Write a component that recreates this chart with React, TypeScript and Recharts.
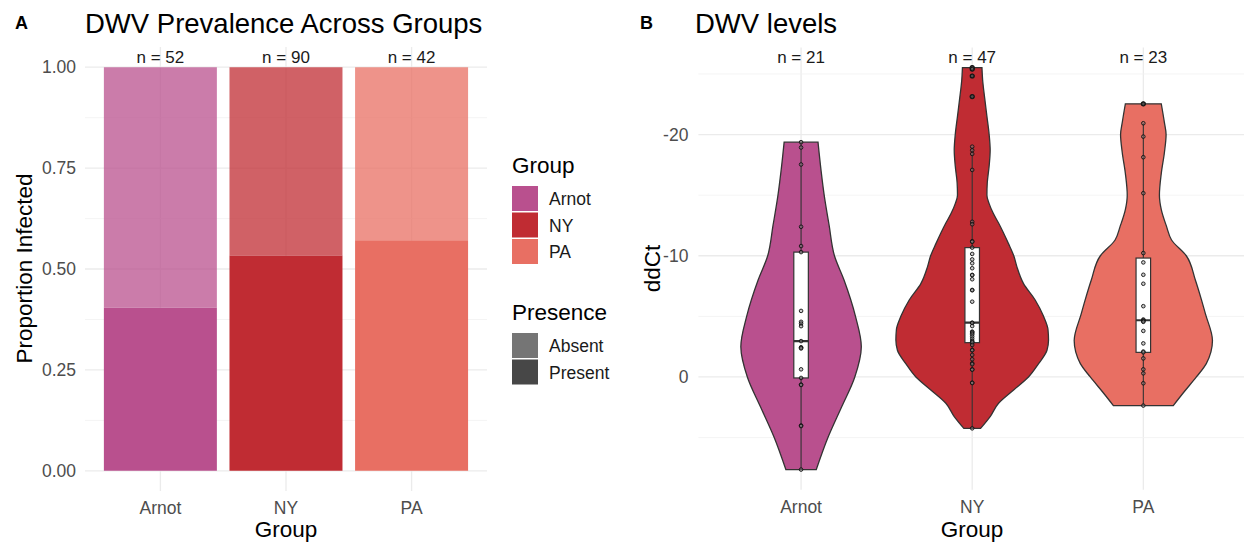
import {
  BarChart,
  Bar,
  Cell,
  LabelList,
  ComposedChart,
  Scatter,
  Curve,
  XAxis,
  YAxis,
  CartesianGrid,
} from 'recharts'

const FONT = '"Liberation Sans", Arial, Helvetica, sans-serif'

const GROUPS = ['Arnot', 'NY', 'PA']
const GROUP_COLORS = ['#B9508E', '#C02C33', '#E86F63']

// bees tested / DWV-positive per group
const TESTED = [52, 90, 42]
const INFECTED = [21, 48, 24]

const PROPORTION_TICKS = [0, 0.25, 0.5, 0.75, 1]
const PROPORTION_MINOR = [0.125, 0.375, 0.625, 0.875]

// ddCt of every DWV-positive bee
const ARNOT_DDCT = [
  -19.37, -18.93, -17.53, -12.39, -10.8, -10.3, -5.45, -4.55, -4.4, -4.19, -2.96,
  -2.45, -2.41, -2.35, -0.63, 0.08, 0.63, 0.66, 4.0, 4.05, 7.64,
]
const NY_DDCT = [
  -25.52, -25.4, -24.83, -23.13, -19.0, -18.7, -18.4, -17.08, -12.8, -12.6, -11.2,
  -11.15, -10.67, -10.15, -9.7, -9.38, -8.97, -8.42, -8.4, -8.06, -7.18, -7.15,
  -6.21, -4.48, -4.45, -4.2, -3.74, -3.7, -3.6, -3.5, -3.33, -3.15, -2.97, -2.9,
  -2.83, -2.64, -2.23, -2.2, -1.82, -1.46, -1.13, -1.05, -0.63, -0.6, 0.47, 0.5, 4.24,
]
const PA_DDCT = [
  -22.53, -20.93, -19.83, -18.13, -15.16, -10.22, -9.45, -8.43, -7.69, -5.84, -4.74,
  -4.68, -4.6, -4.55, -3.8, -2.77, -2.1, -2.03, -1.53, -0.63, -0.3, 0.52, 2.36,
]

// violin outlines: ddCt level and half width (in group units)
const ARNOT_LEVELS = [-19.37, -17, -15, -12.5, -10, -8, -5, -2.5, 0, 2.5, 5, 7.64]
const ARNOT_HALF = [0.099, 0.117, 0.135, 0.164, 0.195, 0.251, 0.318, 0.352, 0.314, 0.236, 0.157, 0.089]
const NY_LEVELS = [
  -25.52, -24.5, -23, -21.5, -20, -18.7, -17.4, -16, -15, -14.3, -13.5, -12.7, -11,
  -10, -9.1, -7.7, -6.35, -5, -3.9, -3.05, -2.2, -1.1, 0, 1.07, 2.17, 3.27, 4.24,
]
const NY_HALF = [
  0.057, 0.061, 0.073, 0.086, 0.099, 0.105, 0.099, 0.088, 0.086, 0.099, 0.123, 0.154,
  0.212, 0.243, 0.261, 0.3, 0.368, 0.417, 0.443, 0.446, 0.437, 0.388, 0.329, 0.242,
  0.154, 0.105, 0.049,
]
const PA_LEVELS = [
  -22.53, -21, -20, -18.5, -16.8, -15, -13.8, -12.4, -11.3, -10, -8, -6.4, -5.2, -3,
  -1.1, 0, 1.3, 2.36,
]
const PA_HALF = [
  0.105, 0.123, 0.133, 0.123, 0.105, 0.094, 0.105, 0.136, 0.165, 0.251, 0.304, 0.339,
  0.363, 0.404, 0.368, 0.31, 0.234, 0.175,
]

// boxplot statistics per group
const WHISKER_LOW = [-19.37, -19.0, -20.93]
const BOX_Q1 = [-10.3, -10.67, -9.81]
const BOX_MEDIAN = [-2.96, -4.48, -4.68]
const BOX_Q3 = [0.08, -2.83, -2.03]
const WHISKER_HIGH = [7.64, 4.24, 2.36]

const DDCT_TICKS = [-20, -10, 0]
const DDCT_MINOR = [-25, -15, -5, 5]

const DDCT = [ARNOT_DDCT, NY_DDCT, PA_DDCT]
const VIOLIN_LEVELS = [ARNOT_LEVELS, NY_LEVELS, PA_LEVELS]
const VIOLIN_HALF = [ARNOT_HALF, NY_HALF, PA_HALF]

const BOX_HALF = 0.0425
const N_LABEL_DDCT = -26.4

const prevalenceData = GROUPS.map((group, i) => ({
  group,
  present: INFECTED[i] / TESTED[i],
  absent: (TESTED[i] - INFECTED[i]) / TESTED[i],
  n: TESTED[i],
}))

const tickStyle = { fill: '#4D4D4D', fontSize: 17.5, fontFamily: FONT }

type Pt = { x: number; y: number }

function violinOutline(g: number) {
  const levels = VIOLIN_LEVELS[g]
  const half = VIOLIN_HALF[g]
  const cx = g + 1
  return [
    ...levels.map((y, i) => ({ x: cx - half[i], y })),
    ...levels.map((y, i) => ({ x: cx + half[i], y })),
  ]
}

const renderViolin = (color: string) => (props: any) => {
  const pts = props.points as Pt[]
  const n = pts.length / 2
  return (
    <Curve
      type="monotone"
      layout="vertical"
      points={pts.slice(n)}
      baseLine={pts.slice(0, n)}
      fill={color}
      stroke="#333333"
      strokeWidth={1.3}
    />
  )
}

function boxPoints(g: number) {
  const cx = g + 1
  return [
    { x: cx, y: WHISKER_LOW[g] },
    { x: cx, y: WHISKER_HIGH[g] },
    { x: cx - BOX_HALF, y: BOX_Q1[g] },
    { x: cx + BOX_HALF, y: BOX_Q3[g] },
    { x: cx - BOX_HALF, y: BOX_MEDIAN[g] },
    { x: cx + BOX_HALF, y: BOX_MEDIAN[g] },
  ]
}

const renderBox = (props: any) => {
  const [w0, w1, c0, c1, m0, m1] = props.points as Pt[]
  return (
    <g>
      <line x1={w0.x} y1={w0.y} x2={w1.x} y2={w1.y} stroke="#333333" strokeWidth={1.1} />
      <rect
        x={Math.min(c0.x, c1.x)}
        y={Math.min(c0.y, c1.y)}
        width={Math.abs(c1.x - c0.x)}
        height={Math.abs(c1.y - c0.y)}
        fill="#ffffff"
        stroke="#333333"
        strokeWidth={1.2}
      />
      <line x1={m0.x} y1={m0.y} x2={m1.x} y2={m1.y} stroke="#333333" strokeWidth={2.2} />
    </g>
  )
}

const hiddenShape = () => <g />

function PrevalencePanel() {
  return (
    <BarChart
      width={500}
      height={542}
      data={prevalenceData}
      margin={{ top: 47, right: 13, bottom: 21, left: 0 }}
      barCategoryGap="5%"
    >
      <CartesianGrid stroke="#EBEBEB" strokeWidth={1.3} syncWithTicks />
      <CartesianGrid
        stroke="#F1F1F1"
        strokeWidth={0.8}
        vertical={false}
        syncWithTicks
        horizontalValues={PROPORTION_MINOR}
      />
      <XAxis
        dataKey="group"
        height={30}
        padding={{ left: 12.6, right: 12.6 }}
        axisLine={false}
        tickLine={false}
        tickSize={0}
        tickMargin={10.5}
        tick={tickStyle}
      />
      <YAxis
        width={85}
        domain={[-0.05, 1.05]}
        ticks={PROPORTION_TICKS}
        allowDataOverflow
        axisLine={false}
        tickLine={false}
        tickSize={0}
        tickMargin={9}
        tick={tickStyle}
        tickFormatter={(v: number) => v.toFixed(2)}
      />
      <Bar dataKey="present" stackId="p" isAnimationActive={false}>
        {prevalenceData.map((d, i) => (
          <Cell key={d.group} fill={GROUP_COLORS[i]} />
        ))}
      </Bar>
      <Bar dataKey="absent" stackId="p" fillOpacity={0.75} isAnimationActive={false}>
        {prevalenceData.map((d, i) => (
          <Cell key={d.group} fill={GROUP_COLORS[i]} />
        ))}
        <LabelList
          dataKey="n"
          content={(p: any) => {
            const vb = p.viewBox ?? p
            return (
              <text
                x={vb.x + vb.width / 2}
                y={vb.y - 4}
                textAnchor="middle"
                fill="#1A1A1A"
                fontSize={17}
                fontFamily={FONT}
              >
                n = {p.value}
              </text>
            )
          }}
        />
      </Bar>
    </BarChart>
  )
}

function LevelsPanel() {
  return (
    <ComposedChart
      width={606}
      height={542}
      margin={{ top: 47.5, right: 0, bottom: 22.3, left: 0 }}
    >
      <CartesianGrid stroke="#EBEBEB" strokeWidth={1.3} syncWithTicks />
      <CartesianGrid
        stroke="#F1F1F1"
        strokeWidth={0.8}
        vertical={false}
        syncWithTicks
        horizontalValues={DDCT_MINOR}
      />
      <XAxis
        type="number"
        dataKey="x"
        height={30}
        domain={[0.4, 3.6]}
        ticks={[1, 2, 3]}
        allowDataOverflow
        axisLine={false}
        tickLine={false}
        tickSize={0}
        tickMargin={10.5}
        tick={tickStyle}
        tickFormatter={(v: number) => GROUPS[v - 1]}
      />
      <YAxis
        type="number"
        dataKey="y"
        width={58.4}
        reversed
        domain={[-27.18, 9.3]}
        ticks={DDCT_TICKS}
        allowDataOverflow
        axisLine={false}
        tickLine={false}
        tickSize={0}
        tickMargin={10}
        tick={tickStyle}
      />
      {GROUPS.map((g, i) => (
        <Scatter
          key={`violin-${g}`}
          data={violinOutline(i)}
          line={renderViolin(GROUP_COLORS[i])}
          shape={hiddenShape}
          isAnimationActive={false}
        />
      ))}
      {GROUPS.map((g, i) => (
        <Scatter
          key={`box-${g}`}
          data={boxPoints(i)}
          line={renderBox}
          shape={hiddenShape}
          isAnimationActive={false}
        />
      ))}
      {GROUPS.map((g, i) => (
        <Scatter
          key={`outlier-${g}`}
          data={DDCT[i]
            .filter((v) => v < WHISKER_LOW[i] || v > WHISKER_HIGH[i])
            .map((y) => ({ x: i + 1, y }))}
          shape={(p: any) => <circle cx={p.cx} cy={p.cy} r={2.6} fill="#1A1A1A" />}
          isAnimationActive={false}
        />
      ))}
      {GROUPS.map((g, i) => (
        <Scatter
          key={`pts-${g}`}
          data={DDCT[i].map((y) => ({ x: i + 1, y }))}
          shape={(p: any) => (
            <circle
              cx={p.cx}
              cy={p.cy}
              r={1.8}
              fill="#8A8A8A"
              fillOpacity={0.45}
              stroke="#111111"
              strokeWidth={0.9}
            />
          )}
          isAnimationActive={false}
        />
      ))}
      <Scatter
        data={GROUPS.map((g, i) => ({ x: i + 1, y: N_LABEL_DDCT, n: DDCT[i].length }))}
        shape={(p: any) => (
          <text
            x={p.cx}
            y={p.cy}
            dy="0.35em"
            textAnchor="middle"
            fill="#1A1A1A"
            fontSize={17}
            fontFamily={FONT}
          >
            n = {p.payload.n}
          </text>
        )}
        isAnimationActive={false}
      />
    </ComposedChart>
  )
}

function Annotations() {
  const groupKeysY = [186, 212.5, 239]
  const presenceKeys = [
    { label: 'Absent', y: 333, opacity: 0.75 },
    { label: 'Present', y: 359.5, opacity: 1 },
  ]
  return (
    <svg
      width={1244}
      height={542}
      style={{ position: 'absolute', left: 0, top: 0, pointerEvents: 'none' }}
      fontFamily={FONT}
    >
      <text x={15} y={29} fontSize={18} fontWeight="bold" fill="#000">A</text>
      <text x={85} y={32.5} fontSize={27.5} fill="#000">DWV Prevalence Across Groups</text>
      <text x={640} y={29} fontSize={18} fontWeight="bold" fill="#000">B</text>
      <text x={695} y={32.5} fontSize={27.5} fill="#000">DWV levels</text>

      <text x={32} y={268.5} fontSize={22.5} textAnchor="middle" transform="rotate(-90 32 268.5)" fill="#000">
        Proportion Infected
      </text>
      <text x={286} y={537} fontSize={22.5} textAnchor="middle" fill="#000">Group</text>
      <text x={660} y={268.5} fontSize={22.5} textAnchor="middle" transform="rotate(-90 660 268.5)" fill="#000">
        ddCt
      </text>
      <text x={972} y={537} fontSize={22.5} textAnchor="middle" fill="#000">Group</text>

      <text x={512} y={173} fontSize={22.5} fill="#000">Group</text>
      {GROUPS.map((g, i) => (
        <g key={g}>
          <rect x={512} y={groupKeysY[i]} width={26} height={25} fill={GROUP_COLORS[i]} />
          <text x={549} y={groupKeysY[i] + 19} fontSize={17.5} fill="#1A1A1A">{g}</text>
        </g>
      ))}
      <text x={512} y={320} fontSize={22.5} fill="#000">Presence</text>
      {presenceKeys.map((k) => (
        <g key={k.label}>
          <rect x={512} y={k.y} width={26} height={25} fill="#474747" fillOpacity={k.opacity} />
          <text x={549} y={k.y + 19} fontSize={17.5} fill="#1A1A1A">{k.label}</text>
        </g>
      ))}
    </svg>
  )
}

export default function App() {
  return (
    <div
      style={{
        position: 'absolute',
        left: 0,
        top: 0,
        width: 1244,
        height: 542,
        overflow: 'hidden',
        background: '#fff',
      }}
    >
      <div style={{ position: 'absolute', left: 0, top: 0 }}>
        <PrevalencePanel />
      </div>
      <div style={{ position: 'absolute', left: 640, top: 0 }}>
        <LevelsPanel />
      </div>
      <Annotations />
    </div>
  )
}
